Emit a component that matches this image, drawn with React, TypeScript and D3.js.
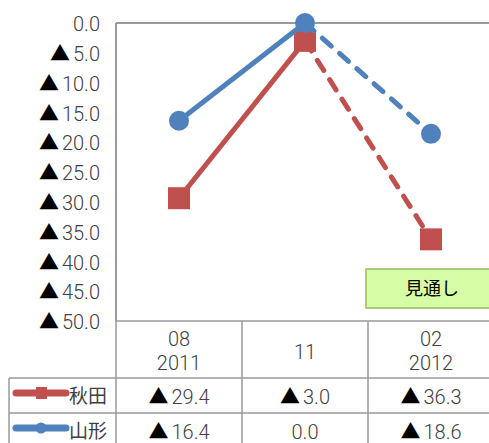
import React from "react";
import * as d3 from "d3";

const categories: string[][] = [["08", "2011"], ["11"], ["02", "2012"]];
const seriesNames = ["秋田", "山形"];
const akita = [-29.4, -3.0, -36.3];
const yamagata = [-16.4, 0.0, -18.6];
const yTicks = [0, -5, -10, -15, -20, -25, -30, -35, -40, -45, -50];
const colors = ["#c0504d", "#4f81bd"];
const forecastLabel = "見通し";

const numFont = "Roboto, 'Noto Sans', sans-serif";
const cjkFont = "'Noto Sans CJK JP', 'Noto Sans', sans-serif";

function NumText(props: { v: number; x: number; y: number; anchor: string }) {
  const { v, x, y, anchor } = props;
  return (
    <text x={x} y={y} dy="0.36em" textAnchor={anchor} fontSize={20} fontFamily={numFont} fontWeight={300} fill="#404040">
      {v < 0 ? (
        <>
          <tspan fill="#000" fontFamily={cjkFont} fontSize={20}>▲</tspan>
          <tspan dx={3}>{Math.abs(v).toFixed(1)}</tspan>
        </>
      ) : (
        v.toFixed(1)
      )}
    </text>
  );
}

export default function App() {
  const W = 489, H = 443;
  const left = 116, top = 23, bottom = 321, colW = 126;
  const x = d3.scaleBand<number>().domain([0, 1, 2]).range([left, left + colW * 3]);
  const y = d3.scaleLinear().domain([0, -50]).range([top, bottom]);
  const cx = (i: number) => (x(i) as number) + x.bandwidth() / 2;
  const series = [akita, yamagata];
  const line = d3.line<[number, number]>().x((d) => d[0]).y((d) => d[1]);
  const gridColor = "#9a9a9a";
  const rowTops = [321, 378, 413, 460];
  const tableLeft = 9;

  return (
    <svg width={W} height={H} style={{ position: "absolute", left: 0, top: 0 }}>
      <rect width={W} height={H} fill="#fff" />
      {/* plot frame */}
      <line x1={left} y1={top} x2={W + 10} y2={top} stroke={gridColor} strokeWidth={2} />
      <line x1={left} y1={top} x2={left} y2={bottom} stroke={gridColor} strokeWidth={2} />
      {/* y tick labels */}
      {yTicks.map((t) => (
        <NumText key={t} v={t} x={100} y={y(t) + 1} anchor="end" />
      ))}
      {/* table grid */}
      <line x1={left} y1={rowTops[0]} x2={W + 10} y2={rowTops[0]} stroke={gridColor} strokeWidth={1.5} />
      <line x1={tableLeft} y1={rowTops[1]} x2={W + 10} y2={rowTops[1]} stroke={gridColor} strokeWidth={1.5} />
      <line x1={tableLeft} y1={rowTops[2]} x2={W + 10} y2={rowTops[2]} stroke={gridColor} strokeWidth={1.5} />
      <line x1={tableLeft} y1={rowTops[1]} x2={tableLeft} y2={H + 5} stroke={gridColor} strokeWidth={1.5} />
      {[0, 1, 2].map((i) => (
        <line key={i} x1={x(i) as number} y1={rowTops[0]} x2={x(i) as number} y2={H + 5} stroke={gridColor} strokeWidth={1.5} />
      ))}
      {/* category labels */}
      {categories.map((c, i) =>
        c.length === 2 ? (
          <g key={i} fontFamily={numFont} fontWeight={300} fontSize={20} fill="#404040">
            <text x={cx(i)} y={339} dy="0.36em" textAnchor="middle">{c[0]}</text>
            <text x={cx(i)} y={363} dy="0.36em" textAnchor="middle">{c[1]}</text>
          </g>
        ) : (
          <text key={i} x={cx(i)} y={352} dy="0.36em" textAnchor="middle" fontFamily={numFont} fontWeight={300} fontSize={20} fill="#404040">{c[0]}</text>
        )
      )}
      {/* table values */}
      {series.map((s, si) =>
        s.map((v, i) => (
          <NumText key={si + "-" + i} v={v} x={cx(i)} y={rowTops[si + 1] + 19} anchor="middle" />
        ))
      )}
      {/* legend keys in table */}
      {seriesNames.map((n, si) => {
        const cy = rowTops[si + 1] + 15;
        return (
          <g key={n}>
            <line x1={16} y1={cy} x2={66} y2={cy} stroke={colors[si]} strokeWidth={7} strokeLinecap="round" />
            {si === 0 ? (
              <rect x={36} y={cy - 6} width={11} height={12} fill={colors[si]} />
            ) : (
              <circle cx={41} cy={cy} r={5.5} fill={colors[si]} />
            )}
            <text x={69} y={cy + 3} dy="0.36em" fontSize={19} fontFamily={cjkFont} fill="#404040">{n}</text>
          </g>
        );
      })}
      {/* forecast box */}
      <rect x={366} y={269} width={140} height={39} fill="#d7fca6" stroke="#9bbb59" strokeWidth={1.5} />
      <text x={432} y={289} dy="0.36em" textAnchor="middle" fontSize={18} fontFamily={cjkFont} fill="#000">{forecastLabel}</text>
      {/* series lines */}
      {series.map((s, si) => {
        const pts: [number, number][] = s.map((v, i) => [cx(i), y(v)]);
        return (
          <g key={si}>
            <path d={line(pts.slice(1, 3)) as string} stroke={colors[si]} strokeWidth={5} fill="none" strokeDasharray="12 11" strokeLinecap="round" />
            <path d={line(pts.slice(0, 2)) as string} stroke={colors[si]} strokeWidth={5} fill="none" />
            {pts.map((p, i) =>
              si === 0 ? (
                <rect key={i} x={p[0] - 11} y={p[1] - 11} width={22} height={22} fill={colors[si]} />
              ) : (
                <circle key={i} cx={p[0]} cy={p[1]} r={10} fill={colors[si]} />
              )
            )}
          </g>
        );
      })}
    </svg>
  );
}
